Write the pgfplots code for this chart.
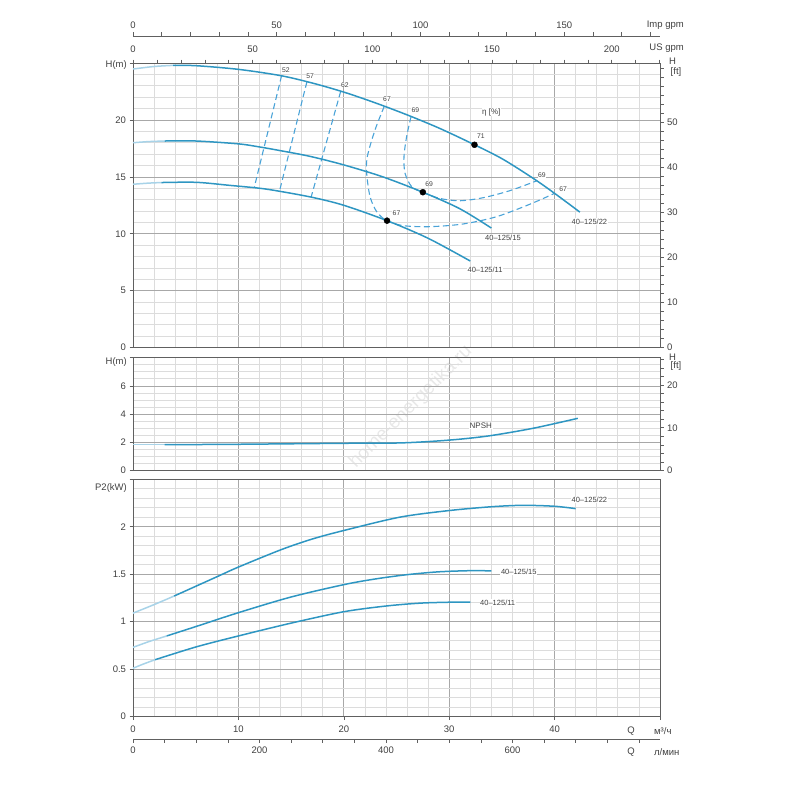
\documentclass[border=0pt]{standalone}
\usepackage{fontspec}
\setmainfont{Liberation Sans}
\usepackage{pgfplots}
\pgfplotsset{compat=1.18}
\definecolor{cblue}{HTML}{2E96C2}
\definecolor{clight}{HTML}{A8D3E8}
\definecolor{cdash}{HTML}{4AA3D8}
\definecolor{gmin}{HTML}{DCDCDC}
\definecolor{gmaj}{HTML}{A8A8A8}
\definecolor{axc}{HTML}{606060}
\definecolor{txt}{HTML}{404040}
\newcommand\fs[1]{\fontsize{#1}{#1}\selectfont}
\tikzset{
 lab/.style={font=\fs{7.5}, text=txt, fill=white, inner sep=0.6pt},
 elab/.style={font=\fs{6.8}, text=txt, fill=white, inner sep=0.3pt},
}
\pgfplotsset{
 base/.style={scale only axis, width=527pt, xmin=0, xmax=50, anchor=south west,
   axis line style={axc, line width=0.9pt},
   tick style={axc, line width=0.6pt},
   major tick length=3.5pt, minor tick length=0pt,
   tick align=outside,
   /pgf/number format/assume math mode=true,
   ticklabel style={font=\fs{9.5}, text=txt},
   grid=both,
   minor grid style={gmin, line width=0.7pt},
   major grid style={gmaj, line width=0.7pt},
   xtick={0,10,...,50}, minor xtick={2,4,...,48},
   ytick pos=left, clip=false},
 rax/.style={scale only axis, width=527pt, xmin=0, xmax=50, anchor=south west,
   hide x axis, axis y line*=right,
   axis line style={axc, line width=0.9pt},
   tick style={axc, line width=0.6pt},
   major tick length=3.5pt, minor tick length=3.5pt, tick align=outside,
   /pgf/number format/assume math mode=true,
   ticklabel style={font=\fs{9.5}, text=txt}},
 tax/.style={scale only axis, width=527pt, height=10pt, ymin=0, ymax=1, anchor=south west,
   hide y axis,
   axis line style={axc, line width=0.9pt},
   tick style={axc, line width=0.6pt},
   major tick length=3.5pt, minor tick length=3.5pt, tick align=outside,
   /pgf/number format/assume math mode=true,
   ticklabel style={font=\fs{9.5}, text=txt}},
 main/.style={cblue, line width=1.5pt, smooth},
 lite/.style={clight, line width=1.5pt, smooth},
 dsh/.style={cdash, line width=1.1pt, dash pattern=on 6pt off 3.5pt},
}
\begin{document}
\begin{tikzpicture}
\path[use as bounding box] (0,0) rectangle (800pt,800pt);
\node[rotate=45, text=black!9, font=\fs{19}] at (411pt,393pt) {home-energetika.ru};

% ---------- top panel: H(m) ----------
\begin{axis}[base, at={(133pt,452.5pt)}, height=284.4pt, ymin=0, ymax=25,
  ytick={0,5,...,25}, yticklabels={0,5,10,15,20,}, minor ytick={1,...,24},
  xticklabels={}, xtick style={draw=none}]
\node[elab] at (axis cs:14.5,24.4) {52};
\node[elab] at (axis cs:16.8,23.85) {57};
\node[elab] at (axis cs:20.1,23.1) {62};
\node[elab] at (axis cs:24.1,21.8) {67};
\node[elab] at (axis cs:26.8,20.9) {69};
\node[elab] at (axis cs:33.0,18.6) {71};
\node[elab] at (axis cs:38.8,15.15) {69};
\node[elab] at (axis cs:40.8,13.95) {67};
\node[elab] at (axis cs:28.1,14.4) {69};
\node[elab] at (axis cs:25.0,11.8) {67};
\node[lab, font=\fs{8}] at (axis cs:34.0,20.7) {η [\%]};
\node[lab] at (axis cs:43.3,11.05) {40–125/22};
\node[lab] at (axis cs:35.1,9.65) {40–125/15};
\node[lab] at (axis cs:33.4,6.8) {40–125/11};
% iso-efficiency
\addplot[dsh] coordinates {(14.1,23.9) (11.5,14.05)};
\addplot[dsh] coordinates {(16.5,23.35) (13.9,13.75)};
\addplot[dsh] coordinates {(19.7,22.5) (16.9,13.22)};
\addplot[dsh, smooth] coordinates {(23.84,21.2) (22.96,19.12) (22.23,16.78) (22.17,15.31) (22.49,13.26) (23.12,11.94) (24.07,11.15) (25.65,10.71) (28.18,10.62) (31.34,10.86) (34.5,11.5) (37.67,12.6) (40.0,13.55)};
\addplot[dsh, smooth] coordinates {(26.38,20.3) (25.96,18.53) (25.71,16.78) (25.81,15.31) (26.44,14.14) (27.48,13.64) (29.13,13.1) (31.02,12.9) (33.24,13.17) (35.77,13.79) (38.3,14.65)};
% 40-125/22
\addplot[lite] coordinates {(0,24.48) (2,24.7) (3.8,24.8)};
\addplot[main] coordinates {(3.8,24.8) (6,24.77) (10,24.45) (14,23.9) (17,23.25) (20,22.45) (23,21.5) (26,20.45) (29,19.3) (32,18.0) (35,16.6) (38,14.85) (40,13.55) (42.4,11.9)};
% 40-125/15
\addplot[lite] coordinates {(0,18.0) (1.5,18.1) (3,18.15)};
\addplot[main] coordinates {(3,18.15) (6,18.15) (10,17.9) (12,17.63) (14,17.3) (16.8,16.8) (20,16.05) (23.7,15.0) (27.5,13.65) (31,12.2) (34,10.5)};
% 40-125/11
\addplot[lite] coordinates {(0,14.35) (1.5,14.45) (2.7,14.5)};
\addplot[main] coordinates {(2.7,14.5) (6,14.52) (9.2,14.25) (12,14.0) (13.8,13.75) (17,13.2) (20,12.5) (24.1,11.15) (28,9.6) (32,7.6)};
\addplot[only marks, mark=*, mark size=3pt, black] coordinates {(32.4,17.82) (27.5,13.65) (24.1,11.15)};
\end{axis}
\begin{axis}[rax, at={(133pt,452.5pt)}, height=284.4pt, ymin=0, ymax=63.25,
  ytick={0,10,...,60}, yticklabels={0,10,20,30,40,50,}, minor ytick={2,4,...,62}]
\end{axis}
% US gpm on top border
\begin{axis}[tax, at={(133pt,726.9pt)}, xmin=0, xmax=220.14, axis x line*=top,
  xtick={0,50,...,200}, minor xtick={10,20,...,220},
  xticklabel style={yshift=3pt}]
\end{axis}
% Imp gpm
\begin{axis}[tax, at={(133pt,754pt)}, xmin=0, xmax=183.31, axis x line*=top,
  xtick={0,50,100,150}, minor xtick={10,20,...,180}]
\end{axis}

% ---------- middle panel: NPSH ----------
\begin{axis}[base, at={(133pt,329.5pt)}, height=112.8pt, ymin=0, ymax=8,
  ytick={0,2,...,8}, yticklabels={0,2,4,6,}, minor ytick={0.5,1,...,7.5},
  xticklabels={}, xtick style={draw=none}]
\node[lab, font=\fs{8}] at (axis cs:33.0,3.18) {NPSH};
\addplot[lite] coordinates {(0,1.83) (1.5,1.83) (3,1.83)};
\addplot[main] coordinates {(3,1.83) (10,1.86) (20,1.93) (25,1.95) (28,2.05) (31,2.22) (34,2.48) (38,3.0) (42.2,3.7)};
\end{axis}
\begin{axis}[rax, at={(133pt,329.5pt)}, height=112.8pt, ymin=0, ymax=26.39,
  ytick={0,10,20}, minor ytick={2,4,...,26}]
\end{axis}

% ---------- bottom panel: P2 ----------
\begin{axis}[base, at={(133pt,83.3pt)}, height=237.5pt, ymin=0, ymax=2.5,
  ytick={0,0.5,...,2.5}, yticklabels={0,0.5,1,1.5,2,}, minor ytick={0.1,0.2,...,2.45},
  xtick pos=bottom, xticklabels={0,10,20,30,40,}, xticklabel style={yshift=-2pt}]
\node[lab] at (axis cs:43.3,2.28) {40–125/22};
\node[lab] at (axis cs:36.6,1.525) {40–125/15};
\node[lab] at (axis cs:34.6,1.2) {40–125/11};
\addplot[lite] coordinates {(0,1.09) (2,1.18) (3.9,1.27)};
\addplot[main] coordinates {(3.9,1.27) (6,1.375) (8.1,1.48) (10,1.575) (14.1,1.76) (17,1.87) (20,1.96) (25.3,2.10) (30,2.17) (34,2.21) (37,2.225) (40,2.215) (42,2.19)};
\addplot[lite] coordinates {(0,0.73) (1.5,0.79) (3.2,0.85)};
\addplot[main] coordinates {(3.2,0.85) (6,0.95) (10,1.095) (15,1.26) (20,1.39) (23,1.45) (26,1.495) (29,1.525) (32,1.537) (34,1.535)};
\addplot[lite] coordinates {(0,0.51) (1,0.555) (2.1,0.60)};
\addplot[main] coordinates {(2.1,0.60) (6,0.735) (10,0.85) (15,0.985) (20,1.105) (24,1.165) (27.2,1.195) (30,1.205) (32,1.205)};
\end{axis}
% l/min
\begin{axis}[tax, at={(133pt,61pt)}, xmin=0, xmax=833.33, axis x line*=bottom,
  xtick={0,200,400,600}, minor xtick={50,100,...,800},
  xticklabel style={yshift=-1pt}]
\end{axis}

% ---------- texts ----------
\begin{scope}[every node/.style={font=\fs{9.5}, text=txt, inner sep=0pt}]
\node[anchor=east] at (684pt,775pt) {Imp gpm};
\node[anchor=east] at (684pt,751.7pt) {US gpm};
\node[anchor=east] at (127pt,735pt) {H(m)};
\node at (672.5pt,738.3pt) {H};
\node at (676pt,728.3pt) {[ft]};
\node[anchor=east] at (127pt,438pt) {H(m)};
\node at (672.5pt,443pt) {H};
\node at (676pt,434pt) {[ft]};
\node[anchor=east] at (127pt,311.7pt) {P2(kW)};
\node at (631pt,69.3pt) {Q};
\node[anchor=west] at (654pt,69.3pt) {м³/ч};
\node at (631pt,47.7pt) {Q};
\node[anchor=west] at (654pt,47.7pt) {л/мин};
\end{scope}
\end{tikzpicture}
\end{document}
